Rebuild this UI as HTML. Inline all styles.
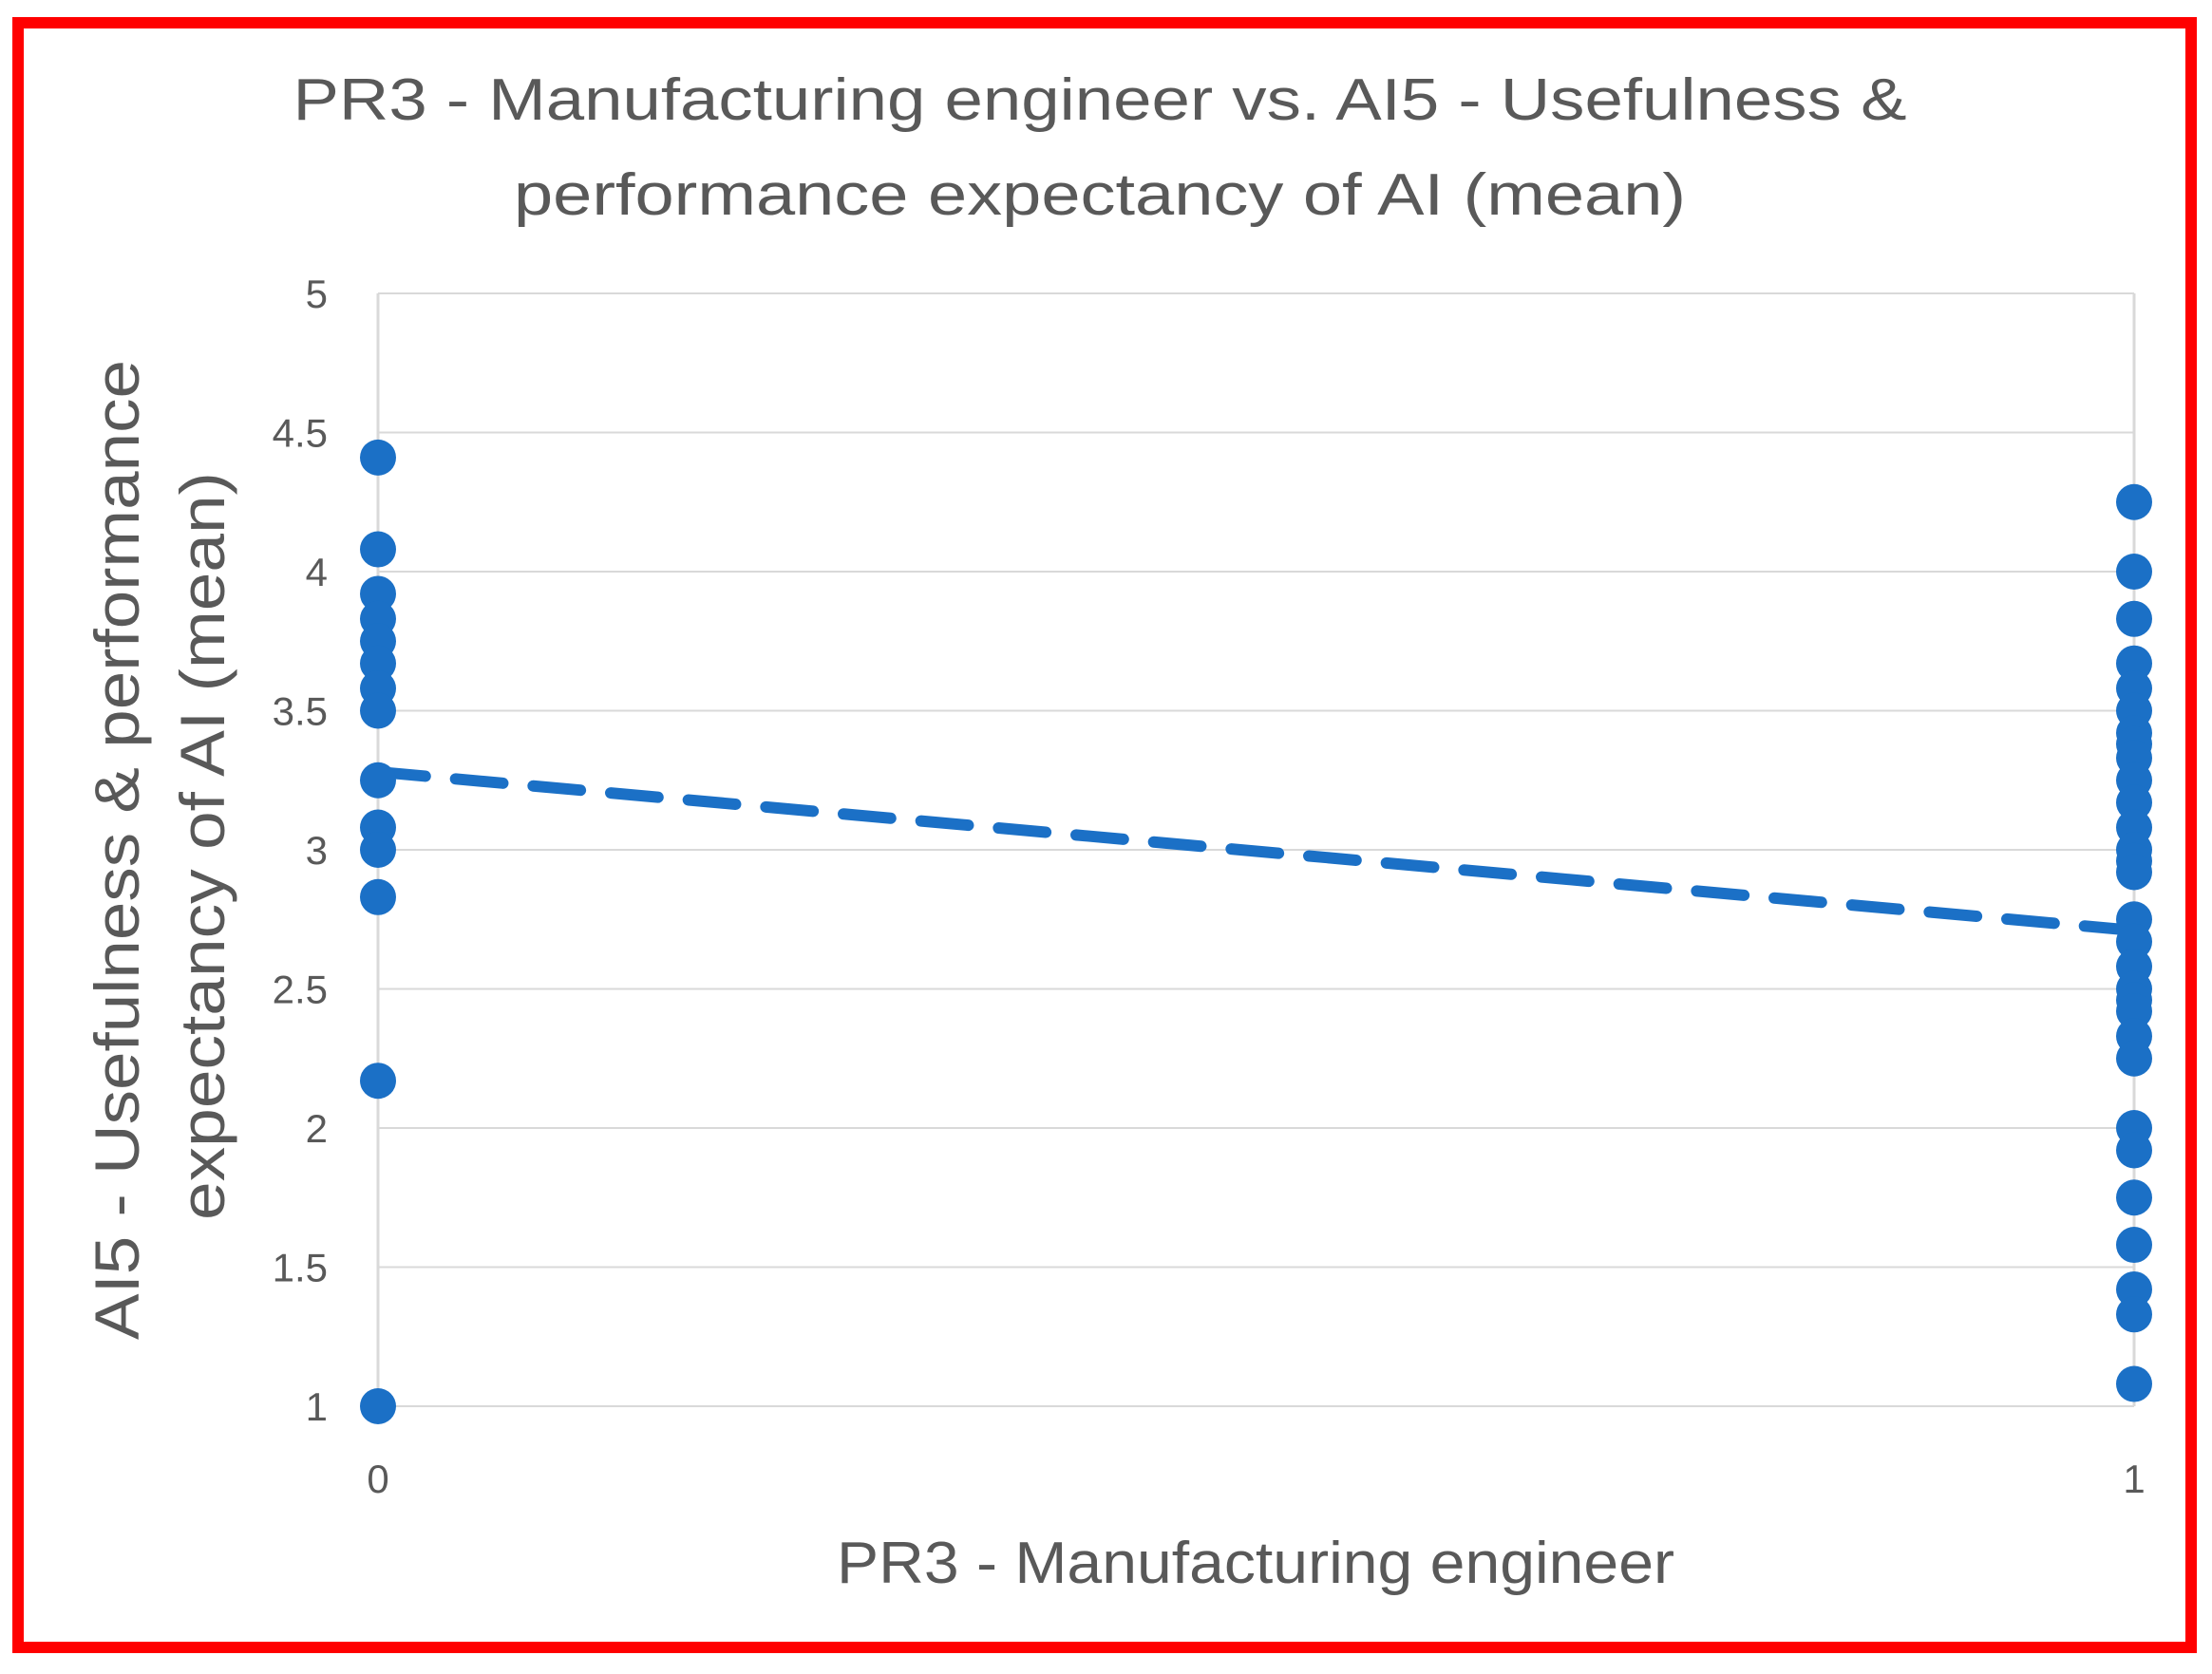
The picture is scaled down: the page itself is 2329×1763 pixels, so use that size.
<!DOCTYPE html>
<html><head><meta charset="utf-8"><style>
html,body{margin:0;padding:0;background:#fff;}
svg{display:block;font-family:"Liberation Sans",sans-serif;}
</style></head><body>
<svg id="chart" width="2329" height="1763" viewBox="0 0 2329 1763">
<rect x="19" y="24" width="2288" height="1711" fill="none" stroke="#ff0000" stroke-width="12"/>
<text x="1158" y="126" font-size="62" fill="#595959" text-anchor="middle" textLength="1699" lengthAdjust="spacingAndGlyphs">PR3 - Manufacturing engineer vs. AI5 - Usefulness &amp;</text>
<text x="1158" y="226" font-size="62" fill="#595959" text-anchor="middle" textLength="1234" lengthAdjust="spacingAndGlyphs">performance expectancy of AI (mean)</text>
<g id="grid"></g>
<g id="yticks"></g>
<g id="xticks"></g>
<g id="trend"></g>
<g id="points"></g>
<text x="1322" y="1667" font-size="62" fill="#595959" text-anchor="middle" textLength="882" lengthAdjust="spacingAndGlyphs">PR3 - Manufacturing engineer</text>
<text transform="translate(146,895) rotate(-90)" font-size="66" fill="#595959" text-anchor="middle" textLength="1032" lengthAdjust="spacingAndGlyphs">AI5 - Usefulness &amp; performance</text>
<text transform="translate(236,891) rotate(-90)" font-size="66" fill="#595959" text-anchor="middle" textLength="788" lengthAdjust="spacingAndGlyphs">expectancy of AI (mean)</text>
</svg>
<script>
const yTicks = [1, 1.5, 2, 2.5, 3, 3.5, 4, 4.5, 5];
const xTicks = [0, 1];
const group0Values = [4.41, 4.08, 3.92, 3.83, 3.75, 3.67, 3.58, 3.5, 3.25, 3.08, 3.0, 2.83, 2.17, 1.0];
const group1Values = [4.25, 4.0, 3.83, 3.67, 3.58, 3.5, 3.42, 3.38, 3.33, 3.25, 3.17, 3.08, 3.0, 2.96, 2.92, 2.75, 2.67, 2.58, 2.5, 2.46, 2.42, 2.33, 2.25, 2.0, 1.92, 1.75, 1.58, 1.42, 1.33, 1.08];
const trendX = [0, 1];
const trendY = [3.28, 2.71];

const NS = "http://www.w3.org/2000/svg";
const L = 398, R = 2247, T = 309, B = 1481;
const xs = v => L + (v - 0) / (1 - 0) * (R - L);
const ys = v => B - (v - 1) / (5 - 1) * (B - T);
function mk(tag, attrs, parent) {
  const e = document.createElementNS(NS, tag);
  for (const k in attrs) e.setAttribute(k, attrs[k]);
  document.getElementById(parent).appendChild(e);
  return e;
}
yTicks.forEach(t => {
  const g = mk("line", {x1: L, x2: R, y1: ys(t), y2: ys(t), stroke: "#d9d9d9", "stroke-width": 2}, "grid");
  
  
  const lab = mk("text", {x: 345, y: ys(t) + 15, "font-size": 42, fill: "#595959", "text-anchor": "end"}, "yticks");
  lab.textContent = String(t);
  
  
});
xTicks.forEach(t => {
  const g = mk("line", {x1: xs(t), x2: xs(t), y1: T, y2: B, stroke: "#d9d9d9", "stroke-width": 3}, "grid");
  
  
  const lab = mk("text", {x: xs(t), y: 1572, "font-size": 42, fill: "#595959", "text-anchor": "middle"}, "xticks");
  lab.textContent = String(t);
  
  
});
const tl = mk("line", {x1: xs(trendX[0]), y1: ys(trendY[0]), x2: xs(trendX[1]), y2: ys(trendY[1]), stroke: "#1b70c6", "stroke-width": 12, "stroke-dasharray": "50 32", "stroke-linecap": "round"}, "trend");


[[0, group0Values], [1, group1Values]].forEach(([xv, vals]) => {
  vals.forEach(v => {
    const c = mk("circle", {cx: xs(xv), cy: ys(v), r: 19, fill: "#1b70c6"}, "points");
    
    
  });
});
</script>
</body></html>
